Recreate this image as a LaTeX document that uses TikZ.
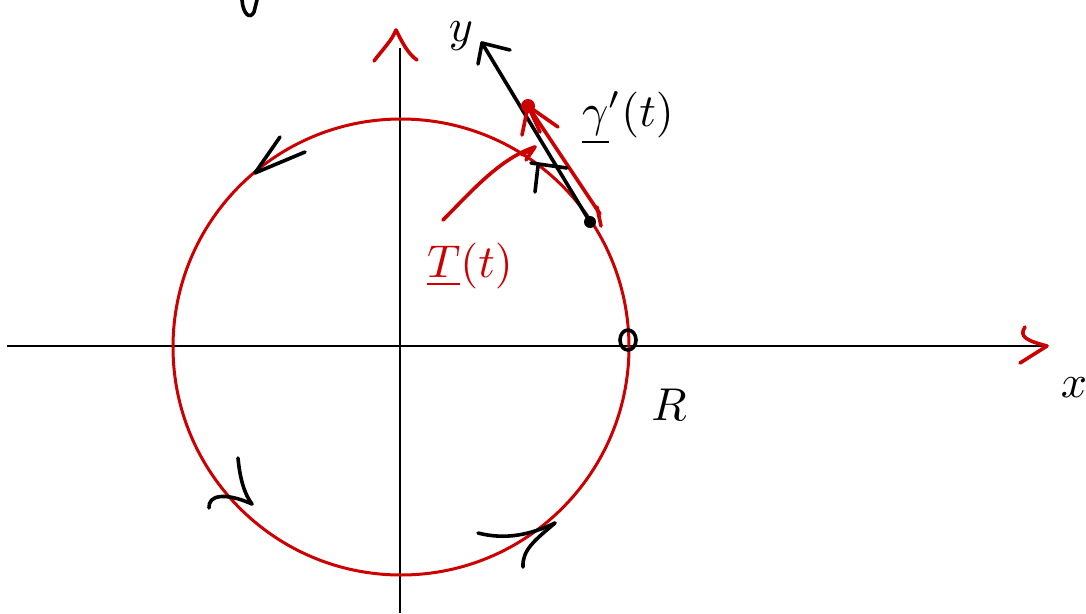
\documentclass[tikz,border=0pt]{standalone}
\usepackage{graphicx}
\usetikzlibrary{arrows.meta}
\definecolor{inkred}{RGB}{204,0,0}
\newcommand{\biglabel}[1]{\scalebox{4.6}{#1}}
\begin{document}
\begin{tikzpicture}[x=1pt,y=-1pt,
  axis/.style={line width=1.8pt,black},
  redline/.style={line width=3pt,inkred},
  ink/.style={line width=3.6pt,line cap=round,line join=round},
  redink/.style={ink,inkred},
  lbl/.style={inner sep=0pt}]
\useasboundingbox (0,0) rectangle (1086,613);
% axes
\coordinate (O) at (401,347);
\coordinate (xl) at (7,346);
\coordinate (xr) at (1047,346);
\coordinate (yb) at (400,613);
\coordinate (yt) at (400,48);
\draw[axis] (xl) -- (xr);
\draw[axis] (yb) -- (yt);
% circle
\draw[redline] (O) circle[radius=228];
% red axis arrowheads
\coordinate (xa1) at (1025,327);
\coordinate (xa2) at (1020,363);
\draw[redink] (xa1) .. controls (1018,337) and (1028,341) .. (xr) -- (xa2);
\coordinate (ytip) at (396,30);
\coordinate (ya1) at (374,61);
\coordinate (ya2) at (417,60);
\draw[redink] (ya1) .. controls (384,48) and (392,40) .. (ytip) .. controls (402,42) and (408,54) .. (ya2);
% point P and tangent
\coordinate (P) at (590,222);
\coordinate (Ttip) at (482,43);
\coordinate (Tb1) at (478,64);
\coordinate (Tb2) at (510,50);
\draw[ink] (P) -- (Ttip);
\draw[ink] (Tb1) -- (Ttip) -- (Tb2);
% red tangent vector
\coordinate (Rdot) at (528,106);
\coordinate (Rb1) at (522,135);
\coordinate (Rb2) at (558,127);
\coordinate (Rb3) at (540,132);
\coordinate (Pr) at (600,214);
\draw[redink] (Pr) -- (Rdot);
\draw[redink] (Rb1) -- (Rdot) -- (Rb2);
\draw[redink] (Rb3) -- (Rdot);
\fill[inkred] (Rdot) circle[radius=7];
\draw[redink] (597,207) -- (601,226);
\fill[black] (P) circle[radius=6];
% right-angle mark
\coordinate (ra1) at (531,163);
\coordinate (ra2) at (567,168);
\coordinate (ra3) at (538,166);
\coordinate (ra4) at (535,192);
\draw[ink] (ra1) -- (ra2);
\draw[ink] (ra3) -- (ra4);
% red curve to T(t)
\coordinate (c1) at (443,220);
\coordinate (c2) at (535,147);
\draw[redink] (c1) .. controls (470,193) and (500,158) .. (c2);
\draw[redink] (522,155) -- (c2) -- (526,160);
% point on x-axis
\coordinate (Rpt) at (628,340);
\draw[ink] (Rpt) ellipse[x radius=8, y radius=10];
% direction arrows on circle
\coordinate (d1) at (255,173);
\draw[ink] (280,137) -- (d1) -- (305,152);
\coordinate (d2) at (252,504);
\draw[ink] (238,458) .. controls (240,480) and (245,495) .. (d2);
\draw[ink] (209,508) .. controls (208,495) and (225,492) .. (d2);
\coordinate (d3) at (555,523);
\draw[ink] (478,533) .. controls (505,540) and (530,535) .. (d3);
\draw[ink] (523,567) .. controls (522,550) and (535,540) .. (d3);
% fragment at top
\coordinate (f1) at (242,0);
\coordinate (f2) at (257,0);
\draw[ink] (f1) .. controls (243,14) and (250,20) .. (254,12) -- (f2);
% labels
\node[lbl] (ylab) at (461,36) {\biglabel{$y$}};
\node[lbl] (xlab) at (1074,388) {\biglabel{$x$}};
\node[lbl] (Rlab) at (669,405) {\biglabel{$R$}};
\node[lbl] (gam) at (628,118) {\biglabel{$\underline{\gamma}'(t)$}};
\node[lbl,text=inkred] (Tlab) at (470,266) {\biglabel{$\underline{T}(t)$}};
\end{tikzpicture}
\end{document}
